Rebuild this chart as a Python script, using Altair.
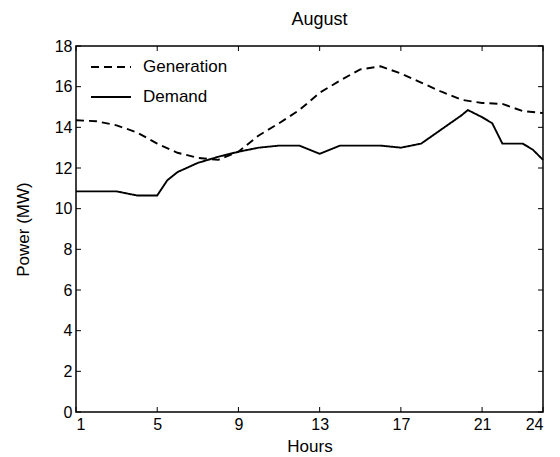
import altair as alt
import pandas as pd

gen_hours = [1, 2, 3, 4, 5, 6, 7, 8, 9, 10, 11, 12, 13, 14, 15, 16, 17, 18, 19, 20, 21, 22, 23, 24]
gen_vals = [14.35, 14.3, 14.1, 13.75, 13.2, 12.75, 12.5, 12.4, 12.8, 13.6, 14.2, 14.85,
            15.7, 16.3, 16.85, 17.0, 16.65, 16.2, 15.75, 15.35, 15.2, 15.15, 14.8, 14.7]

dem_hours = [1, 2, 3, 4, 5, 5.5, 6, 7, 8, 9, 10, 11, 12, 13, 14, 15, 16, 17, 18, 19,
             20, 20.3, 21, 21.5, 22, 23, 23.5, 24]
dem_vals = [10.85, 10.85, 10.85, 10.65, 10.65, 11.4, 11.8, 12.25, 12.55, 12.8, 13.0, 13.1,
            13.1, 12.7, 13.1, 13.1, 13.1, 13.0, 13.2, 13.9, 14.6, 14.85, 14.5, 14.2, 13.2,
            13.2, 12.9, 12.4]

series = ["Generation", "Demand"]
x_ticks = [1, 5, 9, 13, 17, 21, 24]
y_ticks = [0, 2, 4, 6, 8, 10, 12, 14, 16, 18]

W, H = 467, 366
FONT = "Liberation Sans"

df = pd.concat([
    pd.DataFrame({"Hours": gen_hours, "Power": gen_vals, "Series": series[0]}),
    pd.DataFrame({"Hours": dem_hours, "Power": dem_vals, "Series": series[1]}),
])

xs = alt.Scale(domain=[1, 24], nice=False)
ys = alt.Scale(domain=[0, 18], nice=False)
dash = alt.Scale(domain=series, range=[[8, 5], [1, 0]])

lines = alt.Chart(df).mark_line(color="black", strokeWidth=1.9).encode(
    x=alt.X("Hours:Q", scale=xs,
            axis=alt.Axis(values=x_ticks, title="Hours", ticks=False, grid=False,
                          domain=False, labelPadding=4, titlePadding=6)),
    y=alt.Y("Power:Q", scale=ys,
            axis=alt.Axis(values=y_ticks, title="Power (MW)", ticks=False, grid=False,
                          domain=False, labelPadding=4, titlePadding=22)),
    strokeDash=alt.StrokeDash("Series:N", scale=dash, legend=None),
    order="Hours:Q",
)

# manual legend (no box), top-left inside the plot
leg_rows = []
for i, s in enumerate(series):
    d = pd.DataFrame({"Series": [s]})
    y_px = 21 + 30 * i
    leg_rows.append(alt.Chart(d).mark_rule(color="black", strokeWidth=2).encode(
        x=alt.value(15), x2=alt.value(55), y=alt.value(y_px),
        strokeDash=alt.StrokeDash("Series:N", scale=dash, legend=None)))
    leg_rows.append(alt.Chart(d).mark_text(align="left", baseline="middle", font=FONT,
                                           fontSize=17, color="black").encode(
        x=alt.value(67), y=alt.value(y_px), text="Series:N"))

xt = pd.DataFrame({"t": x_ticks})
yt = pd.DataFrame({"t": y_ticks})
tick_style = dict(color="black", strokeWidth=1)
bottom = alt.Chart(xt).mark_rule(**tick_style).encode(
    x=alt.X("t:Q", scale=xs), y=alt.value(H), y2=alt.value(H - 5))
top = alt.Chart(xt).mark_rule(**tick_style).encode(
    x=alt.X("t:Q", scale=xs), y=alt.value(0), y2=alt.value(5))
left = alt.Chart(yt).mark_rule(**tick_style).encode(
    y=alt.Y("t:Q", scale=ys), x=alt.value(0), x2=alt.value(5))
right = alt.Chart(yt).mark_rule(**tick_style).encode(
    y=alt.Y("t:Q", scale=ys), x=alt.value(W), x2=alt.value(W - 5))

chart = alt.layer(lines, bottom, top, left, right, *leg_rows).properties(
    width=W, height=H,
    background="white",
    title=alt.TitleParams("August", fontSize=18, font=FONT, fontWeight="normal",
                          color="black", offset=9, dx=10),
    autosize=alt.AutoSizeParams(type="none"),
    padding={"left": 68, "top": 38, "right": 9, "bottom": 44},
).configure_view(stroke="black", strokeWidth=1.5).configure_axis(
    labelFont=FONT, labelFontSize=16, labelColor="black",
    titleFont=FONT, titleFontSize=17, titleColor="black", titleFontWeight="normal",
)

chart.save("out.html", embed_options={"renderer": "svg", "actions": False})
